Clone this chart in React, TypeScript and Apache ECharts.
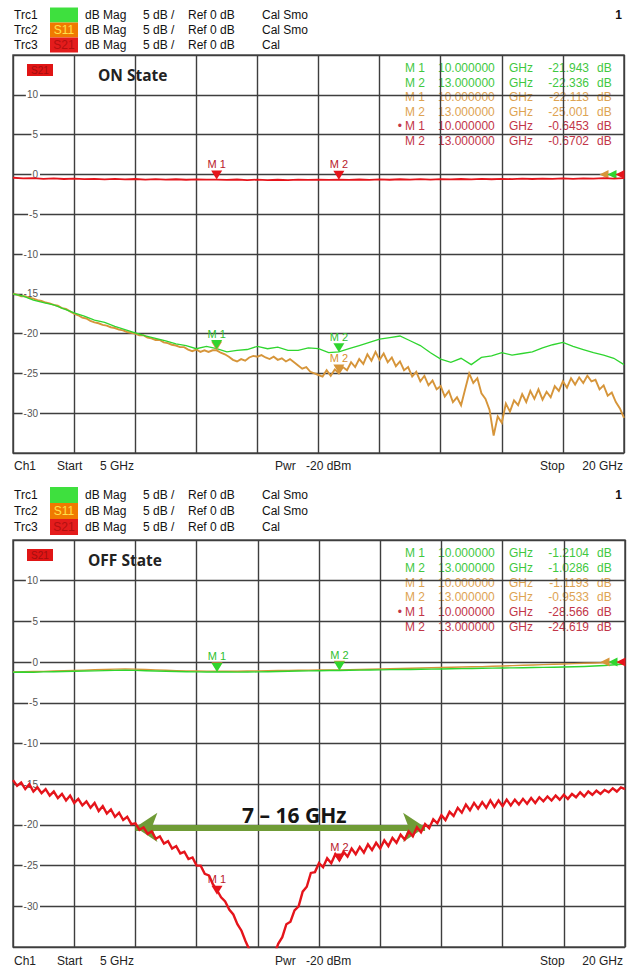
import React, { useEffect, useRef } from "react";
import * as echarts from "echarts";

// Sweep and display settings of the analyzer
const START_GHZ = 5;
const STOP_GHZ = 20;
const REF_DB = 0;
const Y_MIN = -35;
const Y_MAX = 15;
const Y_STEP = 5;
const X_DIVISIONS = 10;

const MARKER_FREQS = [10, 13];
const MARKER_FREQ_TEXT = ["10.000000", "13.000000"];

// ON state traces (dB), evenly spaced over the sweep
const onTrc1 = [
  -15.0, -15.3, -15.8, -16.1, -16.4, -16.9, -17.4, -17.8, -18.3, -18.6,
  -19.1, -19.5, -19.9, -20.3, -20.6, -20.9, -21.3, -21.5, -21.9, -21.6,
  -21.9, -22.3, -22.1, -22.0, -21.6, -21.9, -21.7, -22.1, -22.1, -21.8,
  -21.9, -22.4, -22.3, -21.9, -21.5, -21.1, -20.7, -20.5, -20.3, -20.9,
  -21.5, -22.4, -23.2, -23.6, -23.1, -23.9, -23.0, -22.8, -22.4, -22.7,
  -22.5, -22.3, -21.8, -21.4, -21.1, -21.6, -22.0, -22.4, -22.7, -23.1,
  -23.9,
];
const onTrc2 = [
  -15.0, -15.1, -15.3, -15.3, -15.5, -15.6, -15.8, -15.9, -16.1, -16.2,
  -16.4, -16.5, -16.8, -16.9, -17.2, -17.5, -17.7, -18.0, -18.1, -18.4,
  -18.6, -18.7, -18.9, -19.0, -19.2, -19.3, -19.5, -19.6, -19.8, -19.9,
  -20.0, -20.2, -20.2, -20.5, -20.6, -20.8, -20.8, -21.1, -21.2, -21.4,
  -21.5, -21.7, -21.7, -22.0, -22.2, -22.0, -22.3, -22.1, -22.3, -22.1,
  -22.1, -22.4, -22.6, -22.9, -23.3, -23.5, -23.2, -23.4, -23.0, -22.8,
  -22.9, -22.7, -23.0, -23.2, -22.9, -23.3, -23.1, -23.5, -23.2, -23.6,
  -24.0, -24.4, -24.2, -24.8, -25.0, -25.2, -25.4, -24.6, -25.3, -24.5,
  -25.0, -24.2, -24.6, -23.6, -24.2, -23.2, -23.8, -22.6, -23.4, -22.3,
  -23.3, -22.5, -23.6, -23.0, -24.1, -23.5, -24.6, -24.2, -25.4, -24.8,
  -26.0, -25.3, -26.5, -25.9, -27.0, -26.6, -27.9, -27.2, -28.6, -28.0,
  -29.0, -27.0, -25.0, -26.2, -25.6, -27.5, -28.2, -29.6, -32.8, -30.4,
  -31.2, -28.8, -29.8, -28.4, -29.0, -27.6, -28.6, -27.2, -28.2, -27.0,
  -28.3, -27.3, -28.0, -26.6, -27.2, -26.0, -26.8, -25.6, -26.4, -25.5,
  -26.2, -25.3, -26.0, -25.8, -27.0, -26.5, -27.8, -27.4, -28.6, -29.4,
  -30.6,
];
const onTrc3 = [
  -0.42, -0.5, -0.46, -0.55, -0.5, -0.58, -0.52, -0.6, -0.55, -0.62,
  -0.57, -0.63, -0.58, -0.65, -0.6, -0.66, -0.61, -0.67, -0.62, -0.66,
  -0.645, -0.7, -0.64, -0.71, -0.66, -0.72, -0.67, -0.71, -0.65, -0.7,
  -0.66, -0.69, -0.67, -0.7, -0.64, -0.68, -0.62, -0.67, -0.61, -0.66,
  -0.6, -0.65, -0.59, -0.63, -0.58, -0.62, -0.56, -0.61, -0.55, -0.6,
  -0.54, -0.58, -0.52, -0.57, -0.51, -0.55, -0.5, -0.54, -0.48, -0.52,
  -0.47,
];

// OFF state traces (dB)
const offTrc1 = [
  -1.25, -1.22, -1.24, -1.2, -1.18, -1.15, -1.12, -1.1, -1.08, -1.05,
  -1.02, -1.0, -1.02, -1.06, -1.1, -1.12, -1.15, -1.18, -1.2, -1.21,
  -1.21, -1.22, -1.23, -1.22, -1.2, -1.18, -1.15, -1.12, -1.1, -1.08,
  -1.06, -1.04, -1.03, -1.01, -0.99, -0.97, -0.95, -0.93, -0.91, -0.9,
  -0.88, -0.86, -0.84, -0.82, -0.8, -0.78, -0.76, -0.74, -0.72, -0.71,
  -0.69, -0.67, -0.65, -0.63, -0.61, -0.58, -0.54, -0.48, -0.41, -0.33,
  -0.25,
];
const offTrc2 = [
  -1.2, -1.18, -1.16, -1.14, -1.1, -1.06, -1.02, -0.98, -0.94, -0.9,
  -0.86, -0.84, -0.86, -0.9, -0.95, -1.0, -1.05, -1.08, -1.1, -1.11,
  -1.12, -1.13, -1.12, -1.1, -1.08, -1.06, -1.04, -1.02, -1.0, -0.98,
  -0.97, -0.96, -0.95, -0.93, -0.91, -0.88, -0.85, -0.82, -0.79, -0.76,
  -0.73, -0.7, -0.67, -0.64, -0.61, -0.58, -0.55, -0.51, -0.47, -0.43,
  -0.39, -0.35, -0.31, -0.27, -0.23, -0.19, -0.15, -0.11, -0.07, -0.04,
  -0.01,
];
const offTrc3 = [
  -14.5, -15.2, -14.8, -15.6, -15.0, -15.9, -15.4, -16.1, -15.6, -16.4,
  -15.9, -16.7, -16.2, -17.0, -16.4, -17.3, -16.8, -17.6, -17.1, -17.9,
  -17.3, -18.3, -17.7, -18.6, -18.1, -19.0, -18.5, -19.4, -19.0, -19.9,
  -19.8, -20.6, -20.3, -21.1, -20.8, -21.7, -21.4, -22.3, -22.0, -22.9,
  -22.6, -23.5, -23.3, -24.2, -24.0, -25.0, -25.0, -26.0, -26.2, -27.3,
  -28.0, -28.9, -29.4, -30.4, -31.0, -32.2, -33.0, -34.3, -35.4, -36.8,
  -38.0, -39.5, -40.5, -39.0, -36.0, -34.6, -33.8, -32.2, -31.9, -30.5,
  -30.0, -28.2, -27.6, -25.9, -25.8, -24.7, -25.2, -24.1, -24.7, -23.6,
  -24.3, -23.3, -23.9, -22.9, -23.6, -22.7, -23.4, -22.4, -23.1, -22.2,
  -22.9, -21.9, -22.6, -21.6, -22.2, -21.2, -21.8, -20.8, -21.4, -20.3,
  -20.9, -19.9, -20.4, -19.3, -19.8, -18.8, -19.4, -18.4, -18.9, -17.9,
  -18.5, -17.5, -18.2, -17.3, -18.0, -17.2, -17.9, -17.0, -17.8, -17.0,
  -17.7, -16.9, -17.6, -16.9, -17.5, -16.8, -17.4, -16.7, -17.3, -16.6,
  -17.1, -16.5, -17.0, -16.4, -16.9, -16.3, -16.8, -16.2, -16.6, -16.0,
  -16.5, -15.9, -16.3, -15.8, -16.2, -15.7, -16.0, -15.5, -15.9, -15.4,
  -15.6,
];

// Marker readouts (dB) at 10 GHz and 13 GHz
const onMk1 = [-21.943, -22.336];
const onMk2 = [-22.113, -25.001];
const onMk3 = [-0.6453, -0.6702];
const offMk1 = [-1.2104, -1.0286];
const offMk2 = [-1.1193, -0.9533];
const offMk3 = [-28.566, -24.619];

// Isolation band annotation
const BAND_EDGES = [8.0, 15.1];
const BAND_LEVEL = -20.3;
const BAND_TEXT = "7 – 16 GHz";

const TRACE_NAMES = ["Trc1", "Trc2", "Trc3"];
const TRACE_PARAMS = ["", "S11", "S21"];
const TRACE_CAL = ["Cal Smo", "Cal Smo", "Cal"];

const FONT = '"Liberation Sans", Arial, sans-serif';
const TRACE_COLORS = ["#2fd52f", "#d6953a", "#e5141b"];
const BOX_COLORS = ["#3ee03e", "#f07a00", "#e41c1c"];
const BOX_TEXT_COLORS = ["#3ee03e", "#ffe14a", "#b31010"];
const TABLE_COLORS = ["#3fc83f", "#dea352", "#c23548"];
const LABEL_COLORS = ["#2fc02f", "#d9902e", "#b8202c"];
const REF_OFFSETS = [-12, -20, -4];
const GRID_LINE = { color: "#3e3e3e", width: 1.4 };

const PANELS = [
  {
    state: "ON State",
    titleX: 98,
    grid: { left: 13, top: 55, width: 611, height: 398 },
    headerY: 15,
    headerStep: 15,
    tableY: 68,
    tableStep: 14.6,
    footerY: 466,
    traces: [onTrc1, onTrc2, onTrc3],
    markers: [onMk1, onMk2, onMk3],
    labels: [[true, true], [false, true], [true, true]],
    widths: [1.3, 1.9, 1.8],
  },
  {
    state: "OFF State",
    titleX: 88,
    grid: { left: 13, top: 540, width: 612, height: 407 },
    headerY: 495,
    headerStep: 16,
    tableY: 553,
    tableStep: 14.8,
    footerY: 961,
    traces: [offTrc1, offTrc2, offTrc3],
    markers: [offMk1, offMk2, offMk3],
    labels: [[true, true], [false, false], [true, true]],
    widths: [1.4, 1.4, 2.4],
  },
];

function sweep(vals: number[]) {
  const n = vals.length - 1;
  return vals.map((v, i) => [START_GHZ + ((STOP_GHZ - START_GHZ) * i) / n, v]);
}

function txt(text: string, x: number, y: number, fill: string, size = 12, align = "left", extra: any = {}) {
  return {
    type: "text",
    x,
    y,
    silent: true,
    style: { text, fill, fontSize: size, fontFamily: FONT, align, verticalAlign: "middle", ...extra },
  };
}

function buildOption() {
  const grid: any[] = [];
  const xAxis: any[] = [];
  const yAxis: any[] = [];
  const series: any[] = [];
  const elements: any[] = [];

  PANELS.forEach((p, pi) => {
    grid.push({ ...p.grid, show: true, borderColor: "#5a5a5a", borderWidth: 1.6 });
    xAxis.push({ gridIndex: pi, type: "value", min: START_GHZ, max: STOP_GHZ, show: false });
    xAxis.push({
      gridIndex: pi,
      type: "value",
      min: 0,
      max: X_DIVISIONS,
      interval: 1,
      axisLine: { show: false },
      axisTick: { show: false },
      axisLabel: { show: false },
      splitLine: { show: true, lineStyle: GRID_LINE },
    });
    yAxis.push({
      gridIndex: pi,
      type: "value",
      min: Y_MIN,
      max: Y_MAX,
      interval: Y_STEP,
      axisLine: { show: false },
      axisTick: { show: false },
      axisLabel: {
        margin: -27,
        color: "#555",
        fontSize: 10,
        fontFamily: FONT,
        showMinLabel: false,
        showMaxLabel: false,
        backgroundColor: "#fff",
        padding: [0, 2, 0, 1],
      },
      splitLine: { show: true, lineStyle: GRID_LINE },
    });

    [1, 0, 2].forEach((t, order) => {
      const points: any[] = p.markers[t].map((v, k) => ({
        coord: [MARKER_FREQS[k], v],
        symbol: "triangle",
        symbolSize: [11, 9],
        symbolRotate: 180,
        symbolOffset: [0, -4.5],
        itemStyle: { color: TRACE_COLORS[t] },
        label: {
          show: p.labels[t][k],
          formatter: `M ${k + 1}`,
          position: "top",
          distance: 1,
          color: LABEL_COLORS[t],
          fontSize: 11,
          fontFamily: FONT,
        },
      }));
      points.push({
        coord: [STOP_GHZ, REF_DB],
        symbol: "triangle",
        symbolSize: [9, 9],
        symbolRotate: 90,
        symbolOffset: [REF_OFFSETS[t], 0],
        itemStyle: { color: TRACE_COLORS[t] },
        label: { show: false },
      });
      const s: any = {
        type: "line",
        name: `${TRACE_NAMES[t]} ${pi}`,
        xAxisIndex: pi * 2,
        yAxisIndex: pi,
        data: sweep(p.traces[t]),
        showSymbol: false,
        symbol: "none",
        z: 3 + order,
        lineStyle: { color: TRACE_COLORS[t], width: p.widths[t], join: "miter" },
        markPoint: { silent: true, data: points },
      };
      if (pi === 1 && t === 2) {
        s.markLine = {
          silent: true,
          symbol: ["arrow", "arrow"],
          symbolSize: [22, 22],
          lineStyle: { color: "#6f9b36", width: 6, type: "solid" },
          label: {
            show: true,
            position: "middle",
            formatter: BAND_TEXT,
            color: "#151515",
            fontSize: 21,
            fontWeight: "bold",
            fontFamily: '"Open Sans", sans-serif',
            distance: 2,
            padding: [0, 0, 0, 28],
          },
          data: [[{ coord: [BAND_EDGES[0], BAND_LEVEL] }, { coord: [BAND_EDGES[1], BAND_LEVEL] }]],
        };
      }
      series.push(s);
    });

    // trace header
    TRACE_NAMES.forEach((name, t) => {
      const y = p.headerY + t * p.headerStep;
      elements.push(txt(name, 14, y, "#111"));
      elements.push({
        type: "rect",
        silent: true,
        shape: { x: 50, y: y - p.headerStep / 2, width: 28, height: p.headerStep },
        style: { fill: BOX_COLORS[t] },
      });
      if (TRACE_PARAMS[t]) elements.push(txt(TRACE_PARAMS[t], 64, y, BOX_TEXT_COLORS[t], 12, "center"));
      elements.push(txt("dB Mag", 85, y, "#111"));
      elements.push(txt("5 dB /", 143, y, "#111"));
      elements.push(txt("Ref 0 dB", 188, y, "#111"));
      elements.push(txt(TRACE_CAL[t], 262, y, "#111"));
    });
    elements.push(txt("1", 622, p.headerY, "#111", 12, "right", { fontWeight: "bold" }));

    // measurement badge and title
    const top = p.grid.top;
    elements.push({
      type: "rect",
      silent: true,
      shape: { x: 27, y: top + 9, width: 26, height: 12 },
      style: { fill: "#e01515" },
    });
    elements.push(txt("S21", 40, top + 15, "#a30f0f", 10, "center"));
    elements.push(
      txt(p.state, p.titleX, top + 20, "#222", 15.5, "left", {
        fontWeight: "bold",
        fontFamily: '"Open Sans", sans-serif',
      })
    );

    // marker table
    for (let r = 0; r < 6; r++) {
      const t = Math.floor(r / 2);
      const k = r % 2;
      const y = p.tableY + r * p.tableStep;
      const c = TABLE_COLORS[t];
      if (t === 2 && k === 0) elements.push(txt("•", 402, y, c, 12, "right"));
      elements.push(txt(`M ${k + 1}`, 425, y, c, 12, "right"));
      elements.push(txt(MARKER_FREQ_TEXT[k], 438, y, c));
      elements.push(txt("GHz", 509, y, c));
      elements.push(txt(String(p.markers[t][k]), 589, y, c, 12, "right"));
      elements.push(txt("dB", 597, y, c));
    }

    // channel footer
    const fy = p.footerY;
    elements.push(txt("Ch1", 14, fy, "#222"));
    elements.push(txt("Start", 57, fy, "#222"));
    elements.push(txt("5 GHz", 100, fy, "#222"));
    elements.push(txt("Pwr", 275, fy, "#222"));
    elements.push(txt("-20 dBm", 306, fy, "#222"));
    elements.push(txt("Stop", 540, fy, "#222"));
    elements.push(txt("20 GHz", 623, fy, "#222", 12, "right"));
  });

  return {
    animation: false,
    backgroundColor: "#fff",
    grid,
    xAxis,
    yAxis,
    series,
    graphic: { elements },
  };
}

export default function App() {
  const ref = useRef<HTMLDivElement>(null);
  useEffect(() => {
    const chart = echarts.init(ref.current!, null, { renderer: "svg" });
    chart.setOption(buildOption() as any);
    return () => chart.dispose();
  }, []);
  return (
    <div
      ref={ref}
      style={{ position: "absolute", left: 0, top: 0, width: 633, height: 967, background: "#fff" }}
    />
  );
}
